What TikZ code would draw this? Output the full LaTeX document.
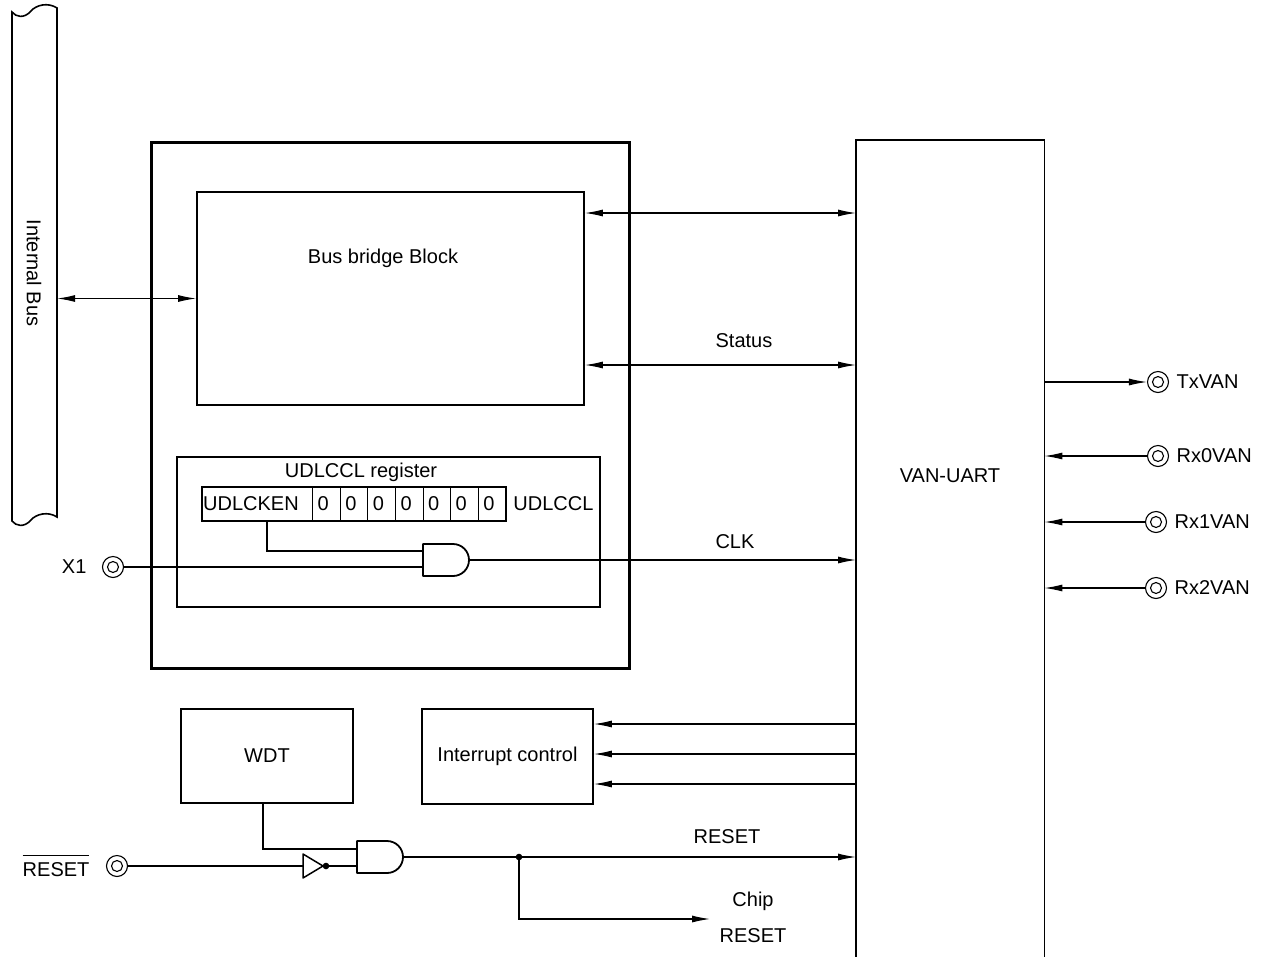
\documentclass[tikz,border=0pt]{standalone}
\usepackage{fontspec}
\setmainfont{Liberation Sans}
\usetikzlibrary{arrows.meta,positioning}

\newcommand\barred[1]{\setbox0\hbox{#1}\rlap{\rule[\dimexpr\ht0+7pt\relax]{\wd0}{1pt}}\box0}

\tikzset{
  wire/.style={line width=1.1pt},
  arr/.style={wire,-{Latex[length=18pt,width=7pt]}},
  darr/.style={wire,{Latex[length=18pt,width=7pt]}-{Latex[length=18pt,width=7pt]}},
  blk/.style={draw,line width=1.8pt,inner sep=0pt},
  term/.style={circle,draw,line width=1.1pt,minimum size=21pt,inner sep=0pt,
    path picture={\draw[line width=1.1pt] (path picture bounding box.center) circle (5.5pt);}},
  cell/.style={draw,line width=1pt,minimum height=34pt,inner ysep=0pt,outer sep=0pt,align=left},
  zcell/.style={text width=17.6pt,inner xsep=5pt},
  gatebody/.style={line width=1.8pt,line join=round},
}

\begin{document}
\begin{tikzpicture}[x=1pt,y=-1pt,every node/.style={font=\fontsize{20}{24}\selectfont}]
	\useasboundingbox (0,0) rectangle (1269,956);
	
	% internal bus
	\node[minimum width=45pt,minimum height=505pt,inner sep=0pt] (bus) at (34.5,265) {};
	\draw[line width=1.6pt] (12,12) .. controls (16,17) and (24,19) .. (31,11) .. controls (36,5) and (48,2) .. (57,8) -- (57,517) .. controls (48,511) and (36,514) .. (31,520) .. controls (24,528) and (16,526) .. (12,521) -- cycle;
	\node[rotate=-90] (buslbl) at (34,273) {Internal Bus};
	
	% bridge block
	\node[draw,line width=3pt,minimum width=478pt,minimum height=526pt,inner sep=0pt] (soc) at (390,405) {};
	\node[blk,minimum width=387pt,minimum height=213pt] (bridge) at (390.5,298.5) {};
	\node (bridgelbl) at (383,258) {Bus bridge Block};
	
	% VAN-UART
	\node[minimum width=188pt,minimum height=830pt,inner sep=0pt,anchor=north west] (uart) at (856,140) {};
	\draw[line width=1.8pt] (uart.south west) -- (uart.north west) -- (uart.north east) -- (uart.south east);
	\node (uartlbl) at (950,476) {VAN-UART};
	
	\draw[darr] (bus.east |- bridge.west) -- (bridge.west);
	\draw[darr] (bridge.east |- 0,213) -- (uart.west |- 0,213);
	\draw[darr] (bridge.east |- 0,365) -- (uart.west |- 0,365);
	\node (status) at (744,341) {Status};
	
	% register
	\node[blk,minimum width=423pt,minimum height=150pt] (reg) at (388.5,532) {};
	\node (reglbl) at (361,472) {UDLCCL register};
	\node[cell,text width=108pt,inner xsep=1.5pt,anchor=west] (en) at (201.7,504) {UDLCKEN};
	\foreach \n [remember=\n as \p (initially en)] in {b6,b5,b4,b3,b2,b1,b0}
		\node[cell,zcell,right=0pt of \p] (\n) {0};
	\draw[line width=1.8pt] (en.north west) rectangle (b0.south east);
	\node[right=4pt of b0] (regname) {UDLCCL};
	
	% clock gate
	\coordinate (g1) at (423,544);
	\coordinate (g1a) at (423,551);
	\coordinate (g1b) at (423,567);
	\coordinate (g1o) at (469,560);
	\draw[gatebody] (g1) -- ++(30,0) arc[start angle=-90,end angle=90,radius=16] -- ++(-30,0) -- cycle;
	\draw[wire] (267,0 |- en.south) |- (g1a);
	
	\node[term] (x1) at (113,567) {};
	\node[left=12pt of x1] (x1lbl) {X1};
	\draw[wire] (x1) -- (g1b);
	\draw[arr] (g1o) -- (uart.west |- g1o);
	\node (clk) at (735,542) {CLK};
	
	% pins
	\node[term] (tx) at (1158,382) {};
	\node[right=4pt of tx] (txlbl) {TxVAN};
	\draw[arr] (uart.east |- tx) -- (tx);
	\node[term] (rx0) at (1158,456) {};
	\node[right=4pt of rx0] (rx0lbl) {Rx0VAN};
	\draw[arr] (rx0) -- (uart.east |- rx0);
	\node[term] (rx1) at (1156,522) {};
	\node[right=4pt of rx1] (rx1lbl) {Rx1VAN};
	\draw[arr] (rx1) -- (uart.east |- rx1);
	\node[term] (rx2) at (1156,588) {};
	\node[right=4pt of rx2] (rx2lbl) {Rx2VAN};
	\draw[arr] (rx2) -- (uart.east |- rx2);
	
	% interrupt, WDT
	\node[blk,minimum width=171pt,minimum height=95pt] (intc) at (507.5,756.5) {Interrupt control};
	\foreach \y in {724,754,784}
		\draw[arr] (uart.west |- 0,\y) -- (intc.east |- 0,\y);
	\node[blk,minimum width=172pt,minimum height=94pt] (wdt) at (267,756) {WDT};
	
	% reset
	\coordinate (g2) at (357,841);
	\coordinate (g2a) at (357,849);
	\coordinate (g2b) at (357,866);
	\coordinate (g2o) at (403,857);
	\draw[gatebody] (g2) -- ++(30,0) arc[start angle=-90,end angle=90,radius=16] -- ++(-30,0) -- cycle;
	\draw[wire] (263,0 |- wdt.south) |- (g2a);
	
	\node[term] (rst) at (117,866) {};
	\node[left=13pt of rst] (rstlbl) {\barred{RESET}};
	\coordinate (inva) at (303,866);
	\coordinate (invo) at (326,866);
	\draw[line width=1.5pt,line join=round] (303,854) -- (303,878) -- (323,866) -- cycle;
	\fill (invo) circle (3.3pt);
	\draw[wire] (rst) -- (inva);
	\draw[wire] (invo) -- (g2b);
	
	\draw[arr] (g2o) -- (uart.west |- g2o);
	\node (resetlbl) at (727,837) {RESET};
	\coordinate (jn) at (519,857);
	\coordinate (chip) at (710,919);
	\fill (jn) circle (3.3pt);
	\draw[arr] (jn) |- (chip);
	\node (chiplbl) at (753,901) {Chip};
	\node (chiprst) at (753,936) {RESET};
	
\end{tikzpicture}
\end{document}
